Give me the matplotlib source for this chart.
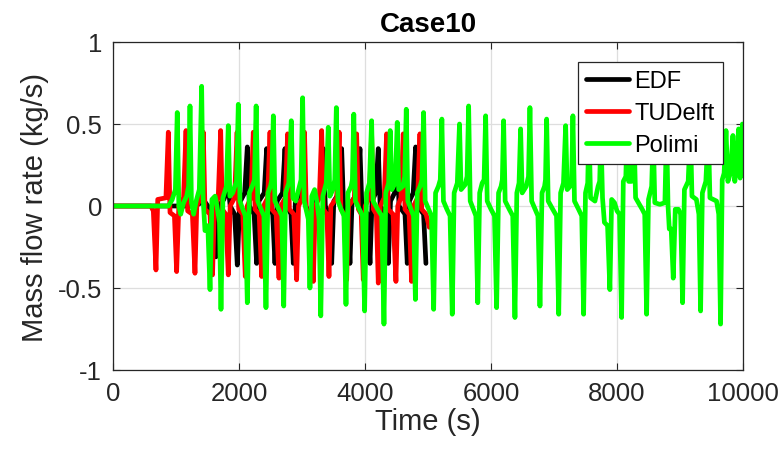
import matplotlib
matplotlib.use("Agg")
import matplotlib.pyplot as plt

plt.rcParams['font.family'] = ['Liberation Sans', 'DejaVu Sans']

# ---------------- data (time s, mass flow rate kg/s) ----------------
edf_pts = [(0, 0), (1300, 0), (1450, 0.03), (1560, -0.03), (1635, -0.31), (1675, 0.0), (1760, 0.04),
           (1830, 0.12), (1860, 0.0), (1930, -0.05), (1973, -0.36), (2010, 0.02), (2090, 0.08),
           (2132, 0.36), (2165, 0.0), (2240, -0.05), (2280, -0.35), (2315, 0.03), (2400, 0.08),
           (2439, 0.35), (2470, 0.0), (2535, -0.05), (2571, -0.35), (2605, 0.03), (2690, 0.08),
           (2730, 0.35), (2760, 0.0), (2825, -0.05), (2862, -0.35), (2895, 0.03), (2990, 0.08),
           (3030, 0.35), (3060, 0.0), (3120, -0.05), (3160, -0.35), (3195, 0.03), (3300, 0.08),
           (3338, 0.35), (3370, 0.0), (3435, -0.05), (3471, -0.35), (3505, 0.03), (3590, 0.08),
           (3629, 0.35), (3660, 0.0), (3725, -0.05), (3761, -0.35), (3795, 0.03), (3880, 0.08),
           (3920, 0.35), (3950, 0.0), (4040, -0.05), (4079, -0.35), (4112, 0.03), (4170, 0.08),
           (4211, 0.35), (4240, 0.0), (4335, -0.05), (4370, -0.35), (4405, 0.03), (4470, 0.08),
           (4510, 0.35), (4540, 0.0), (4635, -0.05), (4671, -0.35), (4705, 0.03), (4765, 0.08),
           (4804, 0.36), (4835, 0.0), (4930, -0.05), (4967, -0.35)]

tudelft_pts = [(0, 0), (600, 0), (640, -0.03), (682, -0.39), (710, 0.04), (840, 0.05), (878, 0.45),
               (905, -0.04), (975, -0.06), (1010, -0.40), (1045, 0.0), (1120, 0.05), (1159, 0.46),
               (1185, -0.03), (1260, -0.05), (1301, -0.41), (1330, 0.0), (1395, 0.05), (1433, 0.45),
               (1460, -0.02), (1540, -0.05), (1580, -0.42), (1610, 0.0), (1670, 0.05), (1709, 0.46),
               (1735, -0.02), (1790, -0.05), (1830, -0.42), (1860, 0.0), (1930, 0.05), (1970, 0.45),
               (1995, -0.02), (2060, -0.05), (2100, -0.43), (2130, 0.0), (2190, 0.05), (2227, 0.45),
               (2255, -0.02), (2320, -0.05), (2360, -0.43), (2390, 0.0), (2455, 0.05), (2492, 0.45),
               (2520, -0.02), (2590, -0.05), (2635, -0.44), (2665, 0.0), (2735, 0.05), (2772, 0.44),
               (2800, -0.02), (2870, -0.05), (2915, -0.45), (2945, 0.0), (3005, 0.05), (3040, 0.45),
               (3068, -0.02), (3140, -0.05), (3180, -0.46), (3210, 0.0), (3275, 0.05), (3312, 0.46),
               (3340, -0.02), (3395, -0.05), (3428, -0.43), (3458, 0.0), (3550, 0.05), (3590, 0.45),
               (3618, -0.02), (3670, -0.05), (3709, -0.45), (3740, 0.0), (3830, 0.05), (3867, 0.44),
               (3895, -0.02), (3940, -0.05), (3973, -0.45), (4003, 0.0), (4070, 0.05), (4105, 0.44),
               (4133, -0.02), (4180, -0.05), (4211, -0.47), (4242, 0.0), (4305, 0.05), (4343, 0.44),
               (4370, -0.02), (4445, -0.05), (4491, -0.46), (4520, 0.0), (4570, 0.05), (4607, 0.44),
               (4635, -0.02), (4700, -0.05), (4740, -0.46), (4770, 0.0), (4835, 0.05), (4872, 0.44),
               (4900, -0.02), (4970, -0.05), (5020, -0.13)]

polimi_pts = [(0, 0), (880, 0), (940, 0.04), (990, 0.1), (1020, 0.57), (1045, 0.0), (1075, -0.05),
              (1120, 0.02), (1170, 0.06), (1200, 0.12), (1222, 0.61), (1245, 0.02), (1280, -0.05),
              (1320, 0.03), (1370, 0.1), (1407, 0.73), (1430, 0.05), (1460, -0.15), (1505, -0.12),
              (1540, -0.51), (1570, 0.04), (1620, 0.06), (1650, 0.0), (1690, -0.1), (1714, -0.63),
              (1745, 0.05), (1800, 0.12), (1830, 0.49), (1855, 0.06), (1900, 0.08), (1960, 0.15),
              (1989, 0.62), (2015, 0.03), (2060, -0.02), (2100, -0.06), (2132, -0.59), (2165, 0.08),
              (2210, 0.12), (2245, 0.16), (2272, 0.61), (2298, 0.03), (2350, -0.02), (2395, -0.06),
              (2428, -0.62), (2460, 0.08), (2500, 0.12), (2520, 0.16), (2545, 0.55), (2570, 0.03),
              (2630, -0.02), (2680, -0.06), (2710, -0.61), (2740, 0.08), (2790, 0.14), (2830, 0.52),
              (2855, 0.05), (2900, 0.03), (2960, 0.12), (2985, 0.16), (3010, 0.66), (3035, 0.03),
              (3070, -0.03), (3100, -0.08), (3126, -0.50), (3155, 0.06), (3200, 0.1), (3240, 0.02),
              (3270, -0.08), (3298, -0.67), (3330, 0.06), (3385, 0.14), (3417, 0.48), (3442, 0.06),
              (3490, 0.1), (3520, 0.16), (3545, 0.60), (3570, 0.03), (3620, -0.02), (3665, -0.06),
              (3698, -0.60), (3730, 0.08), (3780, 0.12), (3800, 0.16), (3822, 0.56), (3848, 0.03),
              (3910, -0.02), (3960, -0.06), (3994, -0.64), (4025, 0.08), (4070, 0.14), (4105, 0.52),
              (4130, 0.03), (4200, -0.02), (4265, -0.06), (4301, -0.72), (4330, 0.08), (4375, 0.14),
              (4400, 0.46), (4425, 0.1), (4480, 0.14), (4512, 0.51), (4535, 0.1), (4600, 0.12),
              (4630, 0.18), (4655, 0.59), (4680, 0.03), (4730, -0.02), (4770, -0.06), (4800, -0.57),
              (4830, 0.08), (4875, 0.12), (4905, 0.16), (4930, 0.57), (4955, 0.03), (5010, -0.02),
              (5055, -0.06), (5090, -0.63), (5120, 0.08), (5165, 0.12), (5195, 0.16), (5220, 0.53),
              (5245, 0.03), (5300, -0.02), (5350, -0.06), (5385, -0.66), (5415, 0.08), (5465, 0.14),
              (5500, 0.50), (5525, 0.1), (5590, 0.13), (5620, 0.18), (5645, 0.61), (5670, 0.03),
              (5720, -0.02), (5760, -0.06), (5790, -0.59), (5820, 0.08), (5860, 0.14), (5890, 0.16),
              (5915, 0.55), (5940, 0.03), (6000, -0.02), (6055, -0.06), (6089, -0.62), (6120, 0.08),
              (6160, 0.12), (6180, 0.16), (6200, 0.52), (6225, 0.03), (6290, -0.02), (6345, -0.06),
              (6380, -0.68), (6410, 0.08), (6445, 0.14), (6470, 0.47), (6495, 0.08), (6560, 0.12),
              (6595, 0.18), (6618, 0.60), (6645, 0.03), (6700, -0.02), (6745, -0.06), (6777, -0.61),
              (6810, 0.08), (6850, 0.12), (6865, 0.16), (6883, 0.53), (6908, 0.03), (6980, -0.02),
              (7040, -0.06), (7075, -0.66), (7105, 0.08), (7150, 0.14), (7185, 0.49), (7210, 0.1),
              (7255, 0.12), (7280, 0.16), (7300, 0.55), (7325, 0.03), (7390, -0.02), (7440, -0.06),
              (7470, -0.66), (7500, 0.08), (7535, 0.14), (7555, 0.50), (7580, 0.05), (7650, 0.03),
              (7700, 0.12), (7725, 0.15), (7745, 0.45), (7770, 0.05), (7800, -0.1), (7850, -0.12),
              (7887, -0.51), (7915, 0.04), (7960, 0.02), (8000, -0.03), (8040, -0.05), (8073, -0.68),
              (8100, 0.15), (8140, 0.18), (8160, 0.47), (8185, 0.15), (8230, 0.15), (8270, 0.45),
              (8295, 0.05), (8400, -0.02), (8440, -0.05), (8470, -0.66), (8500, 0.04), (8550, 0.12),
              (8575, 0.45), (8600, 0.02), (8680, 0.01), (8760, 0.02), (8787, 0.47), (8810, 0.0),
              (8830, -0.14), (8860, -0.14), (8893, -0.44), (8925, -0.02), (8975, -0.02), (9010, -0.05),
              (9041, -0.59), (9070, 0.1), (9130, 0.15), (9165, 0.48), (9190, 0.06), (9260, 0.04),
              (9300, -0.05), (9327, -0.64), (9355, 0.08), (9410, 0.15), (9450, 0.47), (9475, 0.05),
              (9580, 0.03), (9615, -0.05), (9644, -0.72), (9670, 0.16), (9700, 0.2), (9730, 0.46),
              (9760, 0.15), (9800, 0.2), (9840, 0.43), (9870, 0.15), (9905, 0.3), (9930, 0.47),
              (9955, 0.17), (9975, 0.35), (9990, 0.5), (10000, 0.2)]

series_names = ["EDF", "TUDelft", "Polimi"]
series_colors = ["#000000", "#ff0000", "#00ff00"]

x_ticks = [0, 2000, 4000, 6000, 8000, 10000]
y_ticks = [-1, -0.5, 0, 0.5, 1]
y_tick_labels = ["-1", "-0.5", "0", "0.5", "1"]

# ---------------- figure ----------------
fig = plt.figure(figsize=(7.83, 4.56), dpi=100)
ax = fig.add_axes([113 / 783, 1 - 371 / 456, 630 / 783, 328 / 456])

axis_gray = "#262626"
for pts, name, col in zip([edf_pts, tudelft_pts, polimi_pts], series_names, series_colors):
    t = [p[0] for p in pts]
    v = [p[1] for p in pts]
    ax.plot(t, v, color=col, lw=3.4, label=name, solid_joinstyle='round',
            solid_capstyle='round')

ax.set_xlim(0, 10000)
ax.set_ylim(-1, 1)
ax.set_xticks(x_ticks)
ax.set_xticklabels([str(x) for x in x_ticks])
ax.set_yticks(y_ticks)
ax.set_yticklabels(y_tick_labels)
ax.grid(True, color="#dedede", lw=0.9)
ax.set_axisbelow(True)
ax.tick_params(direction='in', length=5, width=0.8, colors=axis_gray,
               labelsize=18.5, top=True, right=True, pad=8)
for sp in ax.spines.values():
    sp.set_color(axis_gray)
    sp.set_linewidth(0.9)

ax.set_xlabel("Time (s)", fontsize=21, color=axis_gray, labelpad=1)
ax.set_ylabel("Mass flow rate (kg/s)", fontsize=21, color=axis_gray, labelpad=6)
ax.set_title("Case10", fontsize=20, fontweight='bold', color="#000000", pad=8)

leg = ax.legend(loc='upper right', bbox_to_anchor=(723 / 783, 1 - 63 / 456),
                bbox_transform=fig.transFigure, fontsize=17, frameon=True, fancybox=False,
                framealpha=1, edgecolor=axis_gray, handlelength=1.8, handletextpad=0.25,
                labelspacing=0.42, borderpad=0.35, borderaxespad=0)
leg.get_frame().set_linewidth(0.9)

fig.savefig("out.png", dpi=100)
